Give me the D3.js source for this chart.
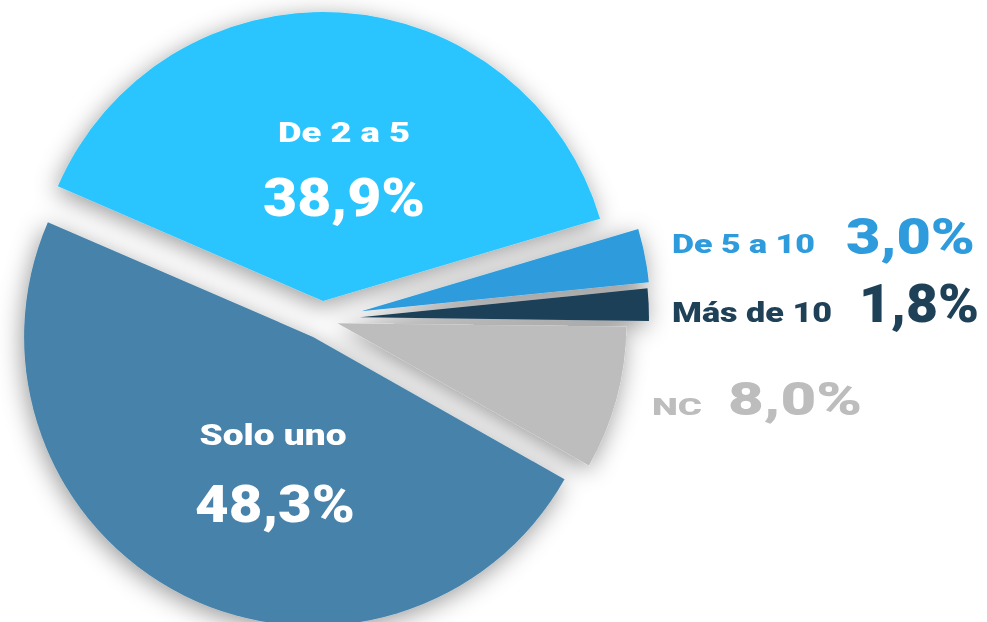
<!DOCTYPE html>
<html>
<head>
<meta charset="utf-8">
<script src="https://cdn.jsdelivr.net/npm/d3@7"></script>
<style>
  html, body { margin: 0; padding: 0; background: #fff; }
  svg { display: block; }
  text { font-family: Roboto, "DejaVu Sans", sans-serif; font-weight: 900; }
</style>
</head>
<body>
<div id="chart"></div>
<script>
// data, in drawing order (clockwise from the top-left edge of "De 2 a 5")
var categories = ['De 2 a 5', 'De 5 a 10', 'Más de 10', 'NC', 'Solo uno'];
var values = [38.9, 3.0, 1.8, 8.0, 48.3];
var valueLabels = ['38,9%', '3,0%', '1,8%', '8,0%', '48,3%'];
var colors = ['#2cc5fe', '#2d9bdc', '#1f4158', '#bdbdbd', '#4682aa'];

var width = 987, height = 622;
var cx = 322, cy = 319, radius = 289;
var explode = [18, 40, 38, 16, 20];

var svg = d3.select('#chart').append('svg')
    .attr('width', width)
    .attr('height', height);

var defs = svg.append('defs');
var shadow = defs.append('filter')
    .attr('id', 'shadow')
    .attr('filterUnits', 'userSpaceOnUse')
    .attr('x', -cx - 50).attr('y', -cy - 50)
    .attr('width', width + 100).attr('height', height + 100);
shadow.append('feDropShadow')
    .attr('dx', -2).attr('dy', 5)
    .attr('stdDeviation', 12)
    .attr('flood-color', '#000')
    .attr('flood-opacity', 0.4);

var start = -66.6 * Math.PI / 180;
var pie = d3.pie().sort(null).startAngle(start).endAngle(start + 2 * Math.PI);
var arcs = pie(values);
var arc = d3.arc().innerRadius(0).outerRadius(radius);

var g = svg.append('g')
    .attr('transform', `translate(${cx},${cy})`)
    .attr('filter', 'url(#shadow)');

g.selectAll('path')
    .data(arcs)
    .enter().append('path')
    .attr('d', arc)
    .attr('fill', (d, i) => colors[i])
    .attr('transform', function(d, i) {
        var a = (d.startAngle + d.endAngle) / 2;
        return `translate(${explode[i] * Math.sin(a)},${-explode[i] * Math.cos(a)})`;
    });

// labels: [x, y(baseline), size, width, anchor]
var nameLayout = [
    [344, 142, 28, 132, 'middle'],
    [672, 253, 25, 143, 'start'],
    [672, 322, 28, 160, 'start'],
    [652, 415, 24, 50, 'start'],
    [273, 445, 30, 147, 'middle']
];
var valueLayout = [
    [344, 216, 53, 162, 'middle'],
    [846, 254, 50, 129, 'start'],
    [859, 322, 54, 120, 'start'],
    [728, 415, 46, 134, 'start'],
    [275, 522, 52, 160, 'middle']
];
var inside = [true, false, false, false, true];

function addText(txt, lay, i) {
    svg.append('text')
        .attr('x', lay[0])
        .attr('y', lay[1])
        .attr('font-size', lay[2])
        .attr('text-anchor', lay[4])
        .attr('textLength', lay[3])
        .attr('lengthAdjust', 'spacingAndGlyphs')
        .attr('fill', inside[i] ? '#fff' : colors[i])
        .text(txt);
}

categories.forEach(function(c, i) {
    addText(c, nameLayout[i], i);
    addText(valueLabels[i], valueLayout[i], i);
});
</script>
</body>
</html>
